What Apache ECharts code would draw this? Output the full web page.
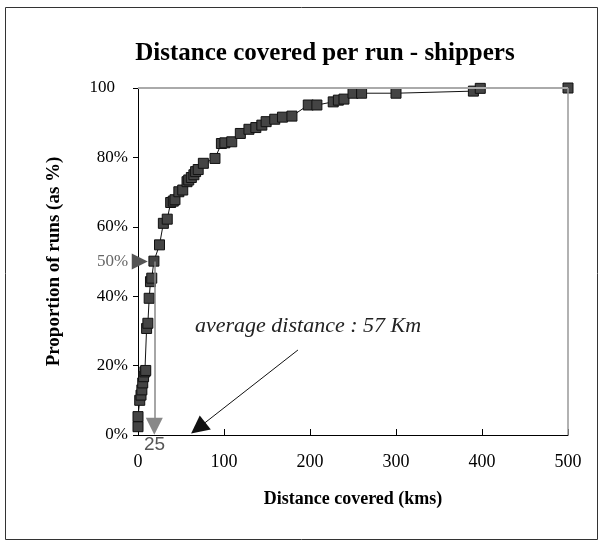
<!DOCTYPE html>
<html>
<head>
<meta charset="utf-8">
<script src="https://cdn.jsdelivr.net/npm/echarts@6/dist/echarts.min.js"></script>
<style>
  html, body { margin: 0; padding: 0; background: #fff; }
  #chart { width: 604px; height: 549px; }
</style>
</head>
<body>
<div id="chart"></div>
<script>
// distance of each run (km) and cumulative share of runs (%)
const distance = [0, 0, 2, 3.5, 4.5, 5.5, 6.5, 8, 9, 10,
  11.5, 13, 14.5, 16, 18.5, 25, 29.5, 34, 38, 41,
  43, 47.5, 52, 57, 59, 62, 65, 67, 70, 76,
  89.5, 97, 101, 109, 119, 129, 137, 144, 149, 159,
  168, 179, 198, 208, 227, 233, 239.5, 250, 260, 300,
  390, 398, 500]
const share = [2.4, 5.3, 10, 11.5, 13, 15, 16.8, 18.2, 18.6, 30.7,
  32.2, 39.4, 44.2, 45.2, 50.1, 54.8, 61, 62.2, 67, 67.4,
  67.8, 70.1, 70.6, 73, 73.5, 74.2, 75, 75.9, 76.5, 78.3,
  79.7, 84, 84.2, 84.5, 86.9, 88.1, 88.6, 89.3, 90.3, 91,
  91.6, 91.9, 95.1, 95.1, 96, 96.5, 96.8, 98.5, 98.5, 98.5,
  99.1, 99.9, 100]

const xTicks = [0, 100, 200, 300, 400, 500]
const yTicks = [0, 20, 40, 60, 80, 100]

// median marker (drawn where the 50% point sits) and average arrow
const medianAt = [19, 50]
const averageFrom = [186, 24.5]
const averageTo = [70, 2]

const serif = 'Liberation Serif'
const chart = echarts.init(document.getElementById('chart'))

chart.setOption({
  animation: false,
  title: {
    text: 'Distance covered per run - shippers',
    left: 320,
    textAlign: 'center',
    top: 36,
    textStyle: { fontFamily: serif, fontWeight: 'bold', fontSize: 25, color: '#000' },
  },
  grid: { left: 138, right: 36, top: 88, bottom: 114 },
  xAxis: {
    type: 'value',
    min: xTicks[0],
    max: xTicks[xTicks.length - 1],
    interval: 100,
    name: 'Distance covered (kms)',
    nameLocation: 'middle',
    nameGap: 55,
    nameTextStyle: { fontFamily: serif, fontWeight: 'bold', fontSize: 18, color: '#000' },
    axisLine: { lineStyle: { color: '#000', width: 1 } },
    axisTick: { inside: true, length: 6, lineStyle: { color: '#000' } },
    axisLabel: { fontFamily: serif, fontSize: 18, color: '#000', margin: 18 },
    splitLine: { show: false },
  },
  yAxis: {
    type: 'value',
    min: yTicks[0],
    max: yTicks[yTicks.length - 1],
    interval: 20,
    name: 'Proportion of runs (as %)',
    nameLocation: 'middle',
    nameGap: 74,
    nameTextStyle: { fontFamily: serif, fontWeight: 'bold', fontSize: 19, color: '#000' },
    axisLine: { show: true, lineStyle: { color: '#000', width: 1 } },
    axisTick: { show: true, length: 5, lineStyle: { color: '#000' } },
    axisLabel: {
      fontFamily: serif, fontSize: 17, color: '#000', margin: 10,
      formatter: (v) => (v === 100 ? '{h|100}' : v + '%'),
      rich: { h: { fontFamily: serif, fontSize: 17, color: '#000', padding: [0, 13, 0, 0] } },
    },
    splitLine: { show: false },
  },
  series: [
    {
      type: 'line',
      data: distance.map((d, i) => [d, share[i]]),
      symbol: 'rect',
      symbolSize: 10,
      showAllSymbol: true,
      lineStyle: { color: '#111', width: 1 },
      itemStyle: { color: '#444', borderColor: '#111', borderWidth: 1 },
      z: 3,
      markLine: {
        silent: true,
        symbol: 'none',
        label: { show: false },
        lineStyle: { type: 'solid' },
        data: [
          { yAxis: 100, lineStyle: { color: '#aaa', width: 2 } },
          { xAxis: 500, lineStyle: { color: '#999', width: 1.5 } },
          [
            { coord: medianAt, symbol: 'none', lineStyle: { color: '#888', width: 1.5 } },
            { coord: [medianAt[0], 2.5], symbol: 'triangle', symbolSize: 17 },
          ],
          [
            { coord: [0, 50], symbol: 'none', lineStyle: { color: '#555', width: 1 } },
            { coord: [2, 50], symbol: 'triangle', symbolSize: 16 },
          ],
          [
            { coord: averageFrom, symbol: 'none', lineStyle: { color: '#111', width: 1 } },
            { coord: averageTo, symbol: 'triangle', symbolSize: 18 },
          ],
        ],
      },
    },
  ],
  graphic: [
    {
      type: 'rect',
      shape: { x: 5.5, y: 7.5, width: 592, height: 532 },
      style: { fill: 'none', stroke: '#333', lineWidth: 1 },
      silent: true,
    },
    {
      type: 'text',
      left: 97, top: 253,
      style: { text: '50%', fontFamily: serif, fontSize: 17, fill: '#666' },
    },
    {
      type: 'text',
      left: 144, top: 435,
      style: { text: '25', fontFamily: 'Liberation Sans', fontSize: 19, fill: '#555' },
    },
    {
      type: 'text',
      left: 195, top: 315,
      style: { text: 'average distance : 57 Km', fontFamily: serif, fontStyle: 'italic', fontSize: 22, fill: '#222' },
    },
  ],
})
</script>
</body>
</html>
